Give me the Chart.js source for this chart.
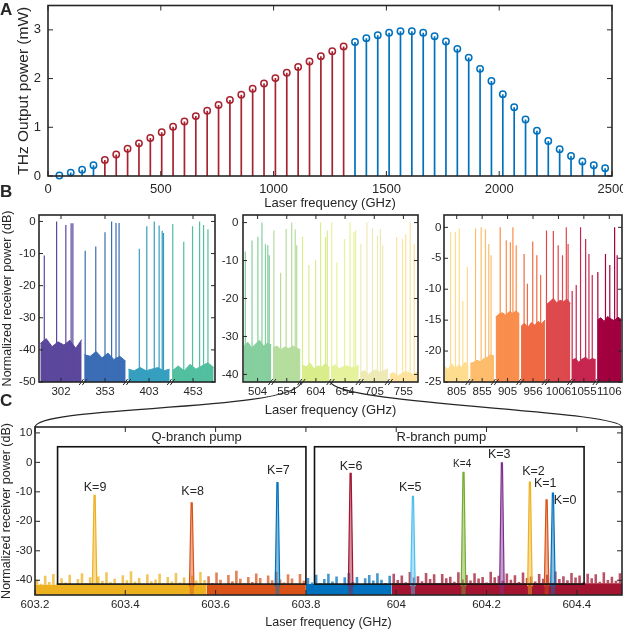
<!DOCTYPE html>
<html>
<head>
<meta charset="utf-8">
<title>THz output power and receiver spectra</title>
<script src="https://cdn.jsdelivr.net/npm/chart.js@4.4.1/dist/chart.umd.min.js"></script>
<style>
  body { margin: 0; background: #fff; }
  #page { position: relative; width: 623px; height: 629px; overflow: hidden; font-family: "Liberation Sans", Arial, sans-serif; }
  #page canvas { position: absolute; }
  .panel { position: absolute; left: 0; font-size: 17px; font-weight: bold; line-height: 1; color: #262626; }
</style>
</head>
<body>
<div id="page">
  <canvas id="chartA" width="623" height="212" style="left:0px;top:0px"></canvas>
  <canvas id="chartB1" width="222" height="190" style="left:0px;top:210px"></canvas>
  <canvas id="chartB2" width="202" height="210" style="left:220px;top:210px"></canvas>
  <canvas id="chartB3" width="201" height="190" style="left:422px;top:210px"></canvas>
  <canvas id="chartC" width="623" height="214" style="left:0px;top:415px"></canvas>
  <canvas id="overlay" width="623" height="629" style="left:0px;top:0px;pointer-events:none"></canvas>
  <div class="panel" style="top:1px">A</div>
  <div class="panel" style="top:183px">B</div>
  <div class="panel" style="top:392px">C</div>
</div>
<script>
// ---------- panel A: THz output power per laser line ----------
const aXTicks = [0, 500, 1000, 1500, 2000, 2500];
const aYTicks = [0, 1, 2, 3];
const aFreqBlue = [50.4, 100.8, 151.2, 201.6, 1360.8, 1411.2, 1461.6, 1512, 1562.4, 1612.8, 1663.2, 1713.6,
  1764, 1814.4, 1864.8, 1915.2, 1965.6, 2016, 2066.4, 2116.8, 2167.2, 2217.6, 2268, 2318.4, 2368.8, 2419.2, 2469.6];
const aPowerBlue = [0.01, 0.07, 0.13, 0.22, 2.75, 2.83, 2.89, 2.94, 2.97, 2.97, 2.94, 2.87,
  2.76, 2.61, 2.43, 2.20, 1.95, 1.68, 1.41, 1.16, 0.93, 0.72, 0.55, 0.41, 0.30, 0.22, 0.16];
const aFreqRed = [252, 302.4, 352.8, 403.2, 453.6, 504, 554.4, 604.8, 655.2, 705.6, 756,
  806.4, 856.8, 907.2, 957.6, 1008, 1058.4, 1108.8, 1159.2, 1209.6, 1260, 1310.4];
const aPowerRed = [0.33, 0.44, 0.56, 0.67, 0.78, 0.90, 1.01, 1.12, 1.23, 1.34, 1.46,
  1.56, 1.67, 1.79, 1.90, 2.01, 2.12, 2.24, 2.35, 2.46, 2.56, 2.66];

// ---------- panel B: receiver spectra, one block per laser line ----------
const bLabels1 = ['302', '353', '403', '453'];
const bLabels2 = ['504', '554', '604', '654', '705', '755'];
const bLabels3 = ['805', '855', '905', '956', '1006', '1055', '1106'];
const bColors1 = ['#5b479c', '#3a6db5', '#369fc0', '#52bf9f'];
const bColors2 = ['#86cf9e', '#b5dd9d', '#d9ee8a', '#e6f29c', '#eeeab5', '#fde39e'];
const bColors3 = ['#fedd8e', '#fdbd6c', '#f98e4d', '#ef6a43', '#dd494d', '#c6264f', '#a2003f'];
const bYTicks1 = [0, -10, -20, -30, -40, -50];
const bYTicks2 = [0, -10, -20, -30, -40];
const bYTicks3 = [0, -5, -10, -15, -20, -25];

const bFloor1 = [
  [-38, -36.5, -39, -37.5, -38.5, -37, -39.5, -36.8],
  [-41.5, -42, -40.5, -42.5, -41, -43, -42, -43.5],
  [-46, -46.5, -45.5, -46.5, -46, -45.5, -46.5, -46],
  [-46.5, -45, -46.5, -44.5, -46, -45, -44, -45.5]
];
const bFloor2 = [
  [-32.5, -31.5, -33, -32, -31, -32.5, -31.8, -32.2],
  [-33, -32.5, -33.5, -32.8, -33.2, -32.5, -33, -33.5],
  [-37.5, -38, -37, -38.5, -37.8, -38, -37.2, -38.3],
  [-38, -37.5, -38.5, -38, -37.7, -38.3, -38, -37.6],
  [-39.5, -39, -40, -39.2, -38.8, -39.5, -39, -38.6],
  [-40, -39.5, -40.5, -39.8, -39.2, -39.6, -40, -39.4]
];
const bFloor3 = [
  [-22.5, -23, -22, -22.8, -22.3, -22.6, -21.8, -22.5],
  [-22, -21.8, -21.5, -21.7, -21.2, -21, -20.6, -20.8],
  [-14.5, -14, -13.8, -14.2, -13.6, -13.9, -13.5, -14],
  [-16, -15.5, -16.2, -15.4, -15.8, -15.2, -15.6, -15],
  [-12.5, -12, -11.5, -12.2, -11.8, -12, -11.6, -12.3],
  [-21.5, -21.2, -21.8, -21.3, -21, -21.5, -21.2, -21.4],
  [-15, -14.6, -15.2, -14.4, -14.8, -15.1, -14.5, -14.9]
];
// spike offsets inside each block and their peak levels (dB)
const bSpikeOff1 = [
  [-0.38, -0.10, 0.11, 0.23, 0.27],
  [-0.45, -0.21, 0.0, 0.15, 0.25, 0.32],
  [-0.22, -0.05, 0.12, 0.23, 0.30, 0.33],
  [-0.46, -0.21, -0.01, 0.15, 0.24, 0.34]
];
const bSpikeTop1 = [
  [-10.6, 0, -1.1, -0.6, -0.6],
  [-9.1, -7.8, -3.4, 0, -0.5, -0.5],
  [-8.5, -1.5, 0, -1.3, -2.9, -3.6],
  [-0.8, -6.3, -1.5, 0, -1.1, -2.4]
];
const bSpikeOff2 = [
  [-0.42, -0.19, 0.01, 0.15, 0.27, 0.35, 0.40],
  [-0.44, -0.21, -0.02, 0.17, 0.29, 0.34],
  [-0.46, -0.24, -0.01, 0.16, 0.33, 0.39],
  [-0.46, -0.28, -0.02, 0.17, 0.30, 0.36],
  [-0.46, -0.25, -0.06, 0.11, 0.21, 0.29],
  [-0.23, -0.03, 0.08, 0.23, 0.37]
];
const bSpikeTop2 = [
  [-7.6, -4.7, -3.7, 0, -5.7, -6, -8.6],
  [-2.1, -13.2, -1.7, 0, -1.8, -6],
  [-3.7, -11.2, -9.9, 0, -3.8, -2.1],
  [0, -10.5, -4.3, 0, -2.5, -2.1],
  [-5.6, 0, -1.5, -3.4, -1.7, -6],
  [-3.8, -4.3, -3, 0, -5.6]
];
const bSpikeOff3 = [
  [-0.24, -0.05, 0.10, 0.24, 0.42],
  [-0.26, -0.04, 0.13, 0.26, 0.35],
  [-0.29, -0.05, 0.11, 0.21, 0.34],
  [-0.35, -0.22, -0.01, 0.15, 0.30],
  [-0.47, -0.20, -0.01, 0.16, 0.31, 0.38],
  [-0.46, -0.30, -0.13, 0.07, 0.20, 0.33],
  [-0.45, -0.15, 0.02, 0.21, 0.31]
];
const bSpikeTop3 = [
  [-0.8, -0.7, -0.2, -11.9, -6.4],
  [-0.2, 0, -0.3, -2.7, -4.5],
  [0, -2.1, -2.4, 0, -2.9],
  [-4.3, -9.1, -2.3, -4.5, -7.7],
  [-0.5, -0.6, -2.9, -4.5, 0, -2.7],
  [-10.3, -9.3, 0, -1.9, -4.3, -7.7],
  [-7.2, -4.3, -6.1, 0, -4.5]
];
const bZoomBlock = '604';   // block of panel B that is expanded in panel C

// ---------- panel C: one laser line resolved ----------
const cXTicks = [603.2, 603.4, 603.6, 603.8, 604, 604.2, 604.4];
const cYTicks = [10, 0, -10, -20, -30, -40];
const cPeakFreq = [603.332, 603.547, 603.737, 603.899, 604.037, 604.149, 604.234, 604.296, 604.333, 604.347];
const cPeakLevel = [-11.2, -13.7, -6.9, -3.7, -11.5, -3.4, -0.2, -6.7, -12.7, -10.4];
const cPeakName = ['K=9', 'K=8', 'K=7', 'K=6', 'K=5', 'K=4', 'K=3', 'K=2', 'K=1', 'K=0'];
const cPeakColor = ['#EDB120', '#D95319', '#0072BD', '#A2142F', '#4DBEEE', '#77AC30', '#7E2F8E', '#EDB120', '#D95319', '#0072BD'];
const cLabelX = [603.333, 603.549, 603.739, 603.900, 604.031, 604.146, 604.228, 604.304, 604.330, 604.374];
const cLabelY = [-8.7, -9.9, -2.8, -1.3, -8.4, -0.8, 2.6, -3.0, -7.3, -12.9];
const cBandEdges = [603.2, 603.58, 603.8, 603.99, 604.5];
const cBandColors = ['#EDB120', '#D95319', '#0072BD', '#A2142F'];
const cBandFloor = [-41.5, -41.5, -41.3, -41.0];
// noise spikes above the floor, left to right inside each band (dB)
const cNoise = [
  [-39.8, -41.2, -38.5, -40.6, -37.9, -41.0, -39.3, -40.8, -38.1, -41.4, -39.6, -37.6, -40.9, -39.0,
   -41.3, -38.7, -40.2, -37.3, -40.7, -39.5, -41.1, -38.3, -40.0, -36.9, -40.5, -39.2, -41.5, -38.0,
   -40.3, -39.7, -37.8, -41.0, -38.9, -40.4, -37.5, -40.8, -39.1, -41.2, -38.4, -40.1, -37.2, -39.9],
  [-38.6, -40.9, -37.4, -39.8, -41.2, -38.2, -40.3, -36.8, -39.5, -41.0, -38.9, -40.6, -37.7, -39.2,
   -41.3, -38.4, -40.0, -37.1, -39.7, -40.8, -38.0, -39.4, -41.1, -37.9, -40.2],
  [-39.2, -40.8, -38.1, -41.0, -39.6, -37.8, -40.4, -38.7, -41.2, -39.0, -37.5, -40.6, -38.9, -41.4,
   -39.3, -38.2, -40.1, -37.6, -39.8, -40.9, -38.5],
  [-37.8, -39.9, -38.4, -40.7, -37.2, -39.1, -38.6, -40.3, -37.5, -39.6, -38.0, -41.0, -37.9, -39.3,
   -38.8, -40.5, -37.3, -39.7, -38.2, -40.1, -37.6, -39.4, -38.9, -40.8, -37.1, -39.0, -38.5, -40.2,
   -37.7, -39.8, -38.3, -40.6, -37.4, -39.2, -38.7, -40.4, -37.9, -39.5, -38.1, -40.9, -37.0, -39.6,
   -38.6, -40.0, -37.5, -39.1, -38.4, -40.7, -37.8, -39.3, -38.0, -40.5, -37.3, -39.9, -38.8, -40.2, -37.6]
];
const cBoxName = ['Q-branch pump', 'R-branch pump'];
const cBoxLeft = [603.25, 603.819];
const cBoxRight = [603.80, 604.416];
const cBoxTop = 5.3, cBoxBottom = -41.3;
const cBoxTitleX = [603.558, 604.10];

// ---------- styling ----------
const INK = '#262626';
const RED = '#A8222F', BLUE = '#0072BD';
const FONT = '"Liberation Sans", Arial, Helvetica, sans-serif';
Chart.defaults.font.family = FONT;
Chart.defaults.color = INK;
Chart.defaults.animation = false;
Chart.defaults.responsive = false;
Chart.defaults.events = [];
Chart.defaults.plugins.legend.display = false;
Chart.defaults.plugins.tooltip.enabled = false;
Chart.defaults.elements.point.radius = 0;
Chart.defaults.elements.line.tension = 0;

function axis(o) {
  return {
    type: 'linear',
    min: o.min,
    max: o.max,
    grid: { display: false, drawTicks: false },
    border: { display: false },
    ticks: { padding: o.pad, font: { size: o.size }, autoSkip: false, maxRotation: 0, callback: o.fmt || (v => String(v)) },
    title: { display: !!o.title, text: o.title || '', font: { size: o.titleSize || 12.5, lineHeight: 1 }, padding: o.titlePad || 0 },
    afterBuildTicks: s => { s.ticks = o.ticks.map(v => ({ value: v })); },
    afterFit: s => {
      if (s.isHorizontal()) { s.height = o.space; s.paddingLeft = 0; s.paddingRight = 0; }
      else { s.width = o.space; s.paddingTop = 0; s.paddingBottom = 0; }
    }
  };
}

// box round the plot, inward ticks on all four sides, optional axis breaks
function frame(tickLen, breaks) {
  return {
    id: 'frame',
    afterDraw(chart) {
      const { ctx, chartArea: a, scales: { x, y } } = chart;
      ctx.save();
      ctx.strokeStyle = INK;
      ctx.lineWidth = 1;
      ctx.beginPath();
      x.ticks.forEach(t => {
        const p = x.getPixelForValue(t.value);
        ctx.moveTo(p, a.bottom); ctx.lineTo(p, a.bottom - tickLen);
        ctx.moveTo(p, a.top); ctx.lineTo(p, a.top + tickLen);
      });
      y.ticks.forEach(t => {
        const p = y.getPixelForValue(t.value);
        ctx.moveTo(a.left, p); ctx.lineTo(a.left + tickLen, p);
        ctx.moveTo(a.right, p); ctx.lineTo(a.right - tickLen, p);
      });
      ctx.stroke();
      ctx.lineWidth = 1.6;
      ctx.strokeRect(a.left, a.top, a.right - a.left, a.bottom - a.top);
      if (breaks) {
        ctx.lineWidth = 1;
        ctx.beginPath();
        for (let i = 0; i < x.ticks.length - 1; i++) {
          const p = x.getPixelForValue(i + 0.5);
          [-1.6, 1.6].forEach(d => { ctx.moveTo(p + d - 2.2, a.bottom + 3); ctx.lineTo(p + d + 2.2, a.bottom - 3); });
        }
        ctx.stroke();
      }
      ctx.restore();
    }
  };
}

// vertical segments from base up to each top, separated by gaps
function vlines(xs, tops, base) {
  const pts = [];
  xs.forEach((x, i) => pts.push({ x, y: base }, { x, y: tops[i] }, { x, y: null }));
  return pts;
}

// ---------- A ----------
new Chart(document.getElementById('chartA'), {
  type: 'line',
  data: {
    datasets: [
      { data: aFreqRed.map((f, i) => ({ x: f, y: aPowerRed[i] })), showLine: false, pointRadius: 3.2, pointBorderWidth: 1.5,
        pointBorderColor: RED, pointBackgroundColor: 'rgba(0,0,0,0)', clip: false, order: 0 },
      { data: aFreqBlue.map((f, i) => ({ x: f, y: aPowerBlue[i] })), showLine: false, pointRadius: 3.2, pointBorderWidth: 1.5,
        pointBorderColor: BLUE, pointBackgroundColor: 'rgba(0,0,0,0)', clip: false, order: 0 },
      { data: vlines(aFreqRed, aPowerRed, 0), borderColor: RED, borderWidth: 1.7, spanGaps: false, order: 1 },
      { data: vlines(aFreqBlue, aPowerBlue, 0), borderColor: BLUE, borderWidth: 1.7, spanGaps: false, order: 1 }
    ]
  },
  options: {
    layout: { padding: { left: 0, top: 4, right: 11, bottom: 0 } },
    scales: {
      x: axis({ min: 0, max: 2500, ticks: aXTicks, size: 13, pad: 6, space: 36,
                title: 'Laser frequency (GHz)', titleSize: 13, titlePad: 2 }),
      y: axis({ min: 0, max: 3.5, ticks: aYTicks, size: 13, pad: 7, space: 48,
                title: 'THz Output power (mW)', titleSize: 15.5, titlePad: 16 })
    }
  },
  plugins: [frame(5, false)]
});

// ---------- B ----------
function spectrumPanel(id, p) {
  const datasets = [];
  p.labels.forEach((lab, i) => {
    const fl = p.floor[i];
    datasets.push({
      data: fl.map((v, k) => ({ x: i - 0.47 + 0.94 * k / (fl.length - 1), y: v })),
      borderColor: p.colors[i], backgroundColor: p.colors[i], borderWidth: 1, fill: 'start', order: 2
    });
    datasets.push({
      data: vlines(p.off[i].map(o => i + o), p.top[i], p.yMin),
      borderColor: p.colors[i], borderWidth: 1.2, spanGaps: false, order: 1
    });
  });
  return new Chart(document.getElementById(id), {
    type: 'line',
    data: { datasets },
    options: {
      layout: { padding: p.padding },
      scales: {
        x: axis({ min: -0.5, max: p.labels.length - 0.5, ticks: p.labels.map((_, i) => i), fmt: (v, i) => p.labels[i],
                  size: 11.5, pad: 2.8, space: p.xSpace, title: p.xTitle, titleSize: 13, titlePad: 3.5 }),
        y: axis({ min: p.yMin, max: 2, ticks: p.yTicks, size: 11.5, pad: p.yPad, space: p.ySpace,
                  title: p.yTitle, titleSize: 12.5, titlePad: 1.2 })
      }
    },
    plugins: [frame(4, true)]
  });
}

spectrumPanel('chartB1', {
  labels: bLabels1, colors: bColors1, floor: bFloor1, off: bSpikeOff1, top: bSpikeTop1,
  yMin: -50, yTicks: bYTicks1, yPad: 3.3, ySpace: 39, xSpace: 18,
  padding: { left: 0, top: 5, right: 7, bottom: 0 }, yTitle: 'Normalized receiver power (dB)'
});
const chartB2 = spectrumPanel('chartB2', {
  labels: bLabels2, colors: bColors2, floor: bFloor2, off: bSpikeOff2, top: bSpikeTop2,
  yMin: -42, yTicks: bYTicks2, yPad: 4.7, ySpace: 23, xSpace: 38,
  padding: { left: 0, top: 5, right: 4, bottom: 0 }, xTitle: 'Laser frequency (GHz)'
});
spectrumPanel('chartB3', {
  labels: bLabels3, colors: bColors3, floor: bFloor3, off: bSpikeOff3, top: bSpikeTop3,
  yMin: -25, yTicks: bYTicks3, yPad: 2.6, ySpace: 22, xSpace: 18,
  padding: { left: 0, top: 5, right: 1, bottom: 0 }
});

// ---------- C ----------
const cDatasets = [];
cNoise.forEach((vals, r) => {
  const x0 = cBandEdges[r], x1 = cBandEdges[r + 1];
  cDatasets.push({
    data: [{ x: x0, y: cBandFloor[r] }, { x: x1, y: cBandFloor[r] }],
    borderWidth: 0, backgroundColor: cBandColors[r], fill: 'start', order: 3
  });
  cDatasets.push({
    data: vlines(vals.map((v, k) => x0 + (x1 - x0) * (k + 0.5) / vals.length), vals, cBandFloor[r]),
    borderColor: cBandColors[r] + 'bb', borderWidth: 2.6, spanGaps: false, order: 2
  });
});
cPeakFreq.forEach((f, i) => {
  const top = cPeakLevel[i];
  cDatasets.push({
    data: [{ x: f - 0.005, y: -42 }, { x: f - 0.0012, y: top }, { x: f + 0.0012, y: top }, { x: f + 0.005, y: -42 }],
    borderColor: cPeakColor[i], backgroundColor: cPeakColor[i] + '77', borderWidth: 1.2, fill: 'start', order: 1
  });
});

const cNotes = {
  id: 'cNotes',
  afterDatasetsDraw(chart) {
    const { ctx, scales: { x, y } } = chart;
    ctx.save();
    ctx.strokeStyle = '#111';
    ctx.lineWidth = 1.6;
    ctx.fillStyle = INK;
    ctx.textAlign = 'center';
    ctx.textBaseline = 'middle';
    cBoxName.forEach((name, i) => {
      const l = x.getPixelForValue(cBoxLeft[i]), r = x.getPixelForValue(cBoxRight[i]);
      const t = y.getPixelForValue(cBoxTop), b = y.getPixelForValue(cBoxBottom);
      ctx.strokeRect(l, t, r - l, b - t);
      ctx.font = '13px ' + FONT;
      ctx.fillText(name, x.getPixelForValue(cBoxTitleX[i]), t - 9);
    });
    cPeakName.forEach((name, i) => {
      ctx.font = (name === 'K=4' ? '10px ' : '12.5px ') + FONT;
      ctx.fillText(name, x.getPixelForValue(cLabelX[i]), y.getPixelForValue(cLabelY[i]));
    });
    ctx.restore();
  }
};

const chartC = new Chart(document.getElementById('chartC'), {
  type: 'line',
  data: { datasets: cDatasets },
  options: {
    layout: { padding: { left: 0, top: 12, right: 1, bottom: 0 } },
    scales: {
      x: axis({ min: 603.2, max: 604.5, ticks: cXTicks, fmt: v => String(Math.round(v * 10) / 10), size: 11.5, pad: 3.1,
                space: 34, title: 'Laser frequency (GHz)', titleSize: 12.5, titlePad: 0 }),
      y: axis({ min: -45, max: 12, ticks: cYTicks, size: 11.5, pad: 2.7, space: 35,
                title: 'Normalized receiver power (dB)', titleSize: 12.5, titlePad: 0 })
    }
  },
  plugins: [cNotes, frame(5, false)]
});

// ---------- zoom connector from the B block to panel C ----------
(function () {
  const ov = document.getElementById('overlay').getContext('2d');
  const b2Left = 220, b2Top = 210, cTop = 415;
  const k = bLabels2.indexOf(bZoomBlock);
  const lx = b2Left + chartB2.scales.x.getPixelForValue(k - 0.5);
  const rx = b2Left + chartB2.scales.x.getPixelForValue(k + 0.5);
  const by = b2Top + chartB2.chartArea.bottom;
  const cl = chartC.chartArea.left, cr = chartC.chartArea.right, ct = cTop + chartC.chartArea.top;
  ov.strokeStyle = INK;
  ov.lineWidth = 1.2;
  ov.beginPath();
  ov.moveTo(cl, ct);
  ov.bezierCurveTo(cl + 3, by + 23, lx - 6, by + 30, lx, by);
  ov.moveTo(rx, by);
  ov.bezierCurveTo(rx + 7, by + 23, cr - 3, by + 28, cr, ct);
  ov.stroke();
})();
</script>
</body>
</html>
